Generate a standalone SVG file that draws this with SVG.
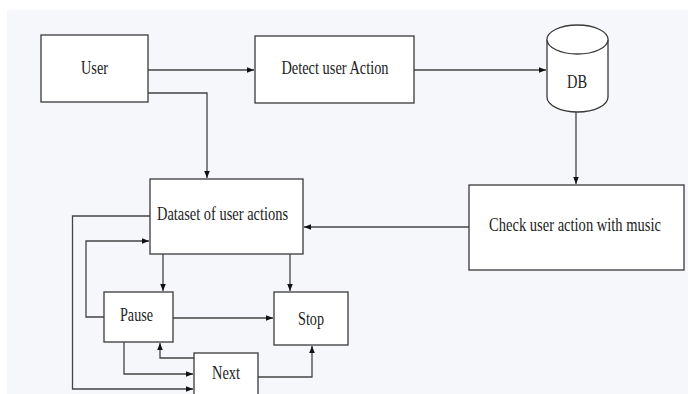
<svg xmlns="http://www.w3.org/2000/svg" width="688" height="394" viewBox="0 0 688 394">
<defs>
<style>
.box{fill:#fff;stroke:#3a3a3a;stroke-width:1.3}
.t{font-family:"Liberation Serif","Times New Roman",serif;font-size:19px;fill:#222;text-anchor:middle}
.c{fill:none;stroke:#444;stroke-width:1.3}
</style>
<marker id="ah" viewBox="0 0 8 8" refX="8" refY="4" markerWidth="7" markerHeight="7" markerUnits="userSpaceOnUse" orient="auto">
<path d="M0,0.8 L8,4 L0,7.2 Z" fill="#111"/>
</marker>
</defs>
<rect x="0" y="0" width="688" height="394" fill="#fff"/>
<rect x="7" y="10" width="681" height="384" fill="#f6f7fb"/>
<g id="connectors">
<path class="c" d="M148,70 H254" marker-end="url(#ah)"/>
<path class="c" d="M414,70 H546" marker-end="url(#ah)"/>
<path class="c" d="M576,112 V184" marker-end="url(#ah)"/>
<path class="c" d="M148,93 H207 V178" marker-end="url(#ah)"/>
<path class="c" d="M469,227 H304" marker-end="url(#ah)"/>
<path class="c" d="M163,254 V291" marker-end="url(#ah)"/>
<path class="c" d="M290,254 V291" marker-end="url(#ah)"/>
<path class="c" d="M173,318 H273" marker-end="url(#ah)"/>
<path class="c" d="M104,317 H86 V241 H149" marker-end="url(#ah)"/>
<path class="c" d="M150,216 H72.5 V389 H193" marker-end="url(#ah)"/>
<path class="c" d="M124,342 V374 H193" marker-end="url(#ah)"/>
<path class="c" d="M194,358 H160 V343" marker-end="url(#ah)"/>
<path class="c" d="M258,377 H312 V346" marker-end="url(#ah)"/>
</g>
<g id="user">
<rect class="box" x="41" y="35" width="107" height="67"/>
<text class="t" transform="translate(94.5,74) scale(0.75,1)">User</text>
</g>
<g id="detect">
<rect class="box" x="255" y="36" width="159" height="67"/>
<text class="t" transform="translate(335,74) scale(0.758,1)">Detect user Action</text>
</g>
<g id="db">
<path class="box" d="M547,39.5 V97 A30.5,15 0 0 0 608,97 V39.5 A30.5,14.5 0 0 0 547,39.5 Z"/>
<path class="box" d="M547,39.5 A30.5,14.5 0 0 0 608,39.5" fill="none"/>
<text class="t" transform="translate(577,88) scale(0.76,1)">DB</text>
</g>
<g id="check">
<rect class="box" x="469" y="185" width="215" height="85"/>
<text class="t" transform="translate(575,231) scale(0.765,1)">Check user action with music</text>
</g>
<g id="dataset">
<rect class="box" x="150" y="179" width="153" height="75"/>
<text class="t" transform="translate(222.5,220) scale(0.76,1)">Dataset of user actions</text>
</g>
<g id="pause">
<rect class="box" x="104" y="292" width="69" height="50"/>
<text class="t" transform="translate(136.5,321) scale(0.745,1)">Pause</text>
</g>
<g id="stop">
<rect class="box" x="274" y="292" width="74" height="53"/>
<text class="t" transform="translate(311,325) scale(0.747,1)">Stop</text>
</g>
<g id="next">
<rect class="box" x="194" y="353" width="64" height="50"/>
<text class="t" transform="translate(226,379) scale(0.758,1)">Next</text>
</g>
</svg>
